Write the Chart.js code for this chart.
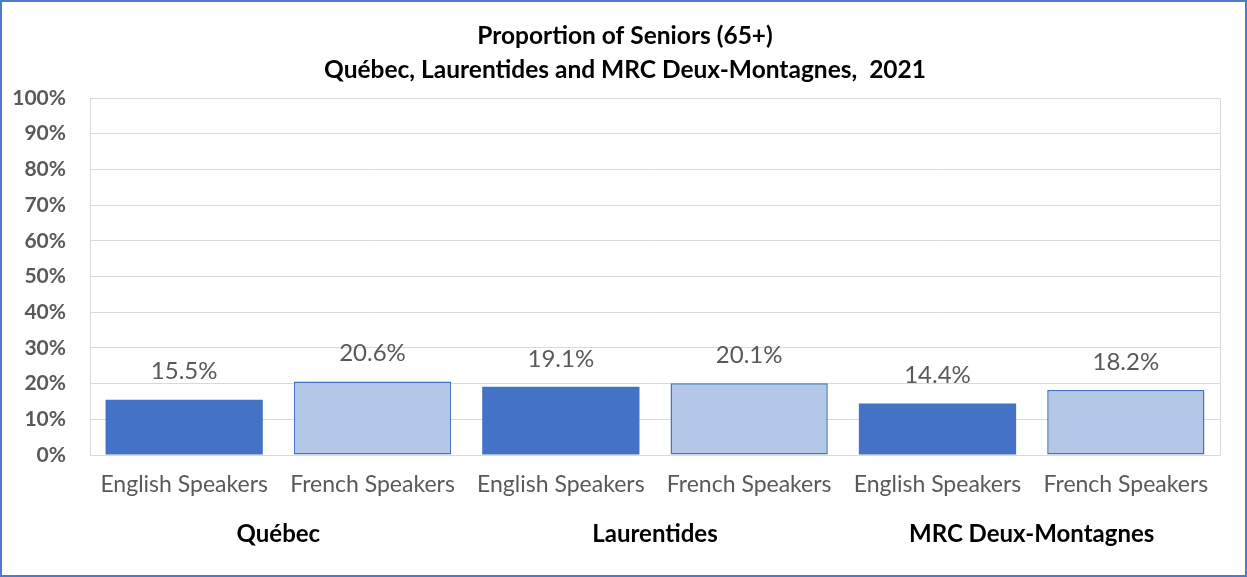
<!DOCTYPE html>
<html><head><meta charset="utf-8">
<script src="https://cdn.jsdelivr.net/npm/chart.js@4"></script>
<style>html,body{margin:0;padding:0;background:#fff;}#wrap{width:1247px;height:577px;position:relative;}</style>
</head><body><div id="wrap"><canvas id="c" width="1247" height="577"></canvas></div>
<script>
const categories = ['English Speakers','French Speakers','English Speakers','French Speakers','English Speakers','French Speakers'];
const groups = ['Québec','Laurentides','MRC Deux-Montagnes'];
const values = [15.5, 20.6, 19.1, 20.1, 14.4, 18.2];
const yTicks = [0,10,20,30,40,50,60,70,80,90,100];
const titleLines = ['Proportion of Seniors (65+)','Québec, Laurentides and MRC Deux-Montagnes,  2021'];

const FONT = 'Lato, "Open Sans", sans-serif';
const dark = '#4472C4', light = '#B4C7E7';
const fills = values.map((v,i)=> i%2===0 ? dark : light);

const deco = {
  id:'deco',
  beforeDraw(chart){
    const ctx = chart.ctx;
    ctx.save();
    ctx.fillStyle='#fff'; ctx.fillRect(0,0,chart.width,chart.height);
    ctx.restore();
  },
  afterDraw(chart){
    const ctx = chart.ctx;
    ctx.save();
    ctx.strokeStyle = '#4F7BCB'; ctx.lineWidth = 2;
    ctx.strokeRect(1,1,chart.width-2,chart.height-2);
    ctx.fillStyle='#000'; ctx.font = 'bold 24.5px '+FONT; ctx.textAlign='center'; ctx.textBaseline='middle';
    ctx.fillText(titleLines[0], 625, 36);
    ctx.fillText(titleLines[1], 625, 70);
    const meta = chart.getDatasetMeta(0);
    ctx.fillStyle='#595959'; ctx.font = '24px '+FONT;
    meta.data.forEach((bar,i)=>{
      ctx.fillText(values[i].toFixed(1)+'%', bar.x, bar.y-28);
    });
    ctx.restore();
  }
};

new Chart(document.getElementById('c'), {
  type:'bar',
  data:{ labels: categories, datasets:[{ data: values, backgroundColor: fills, borderColor: dark, borderSkipped:false, borderWidth: values.map((v,i)=> i%2===0?0:1.5), categoryPercentage: 0.835, barPercentage: 1 }]},
  options:{
    responsive:false, animation:false,
    layout:{ padding:{ top:98, right:27, left:0, bottom:0 } },
    plugins:{ legend:{display:false}, tooltip:{enabled:false}, title:{display:false} },
    scales:{
      x:{ position:'bottom', grid:{ display:false, drawTicks:false }, border:{ color:'#D9D9D9', width:1 },
          ticks:{ color:'#595959', font:{ family:FONT, size:23 }, padding:16, maxRotation:0, autoSkip:false },
          afterFit(s){ s.height = 52; } },
      g:{ type:'category', labels: groups, position:'bottom', offset:true,
          grid:{ display:false, drawTicks:false }, border:{ display:false },
          ticks:{ color:'#000', font:{ family:FONT, size:24, weight:'bold' }, padding:13 },
          afterFit(s){ s.height = 70; } },
      y:{ min:0, max:100, grid:{ color:'#D9D9D9', drawTicks:false }, border:{ color:'#D9D9D9' },
          afterBuildTicks(s){ s.ticks = yTicks.map(v=>({value:v})); },
          ticks:{ color:'#595959', font:{ family:FONT, size:21, weight:'bold' }, padding:24, callback:v=>v+'%' },
          afterFit(s){ s.width = 90; } },
      yr:{ position:'right', min:0, max:100, display:true, grid:{display:false, drawTicks:false}, border:{ color:'#D9D9D9' }, ticks:{display:false}, afterFit(s){ s.width = 0; } }
    }
  },
  plugins:[deco]
});
</script></body></html>
